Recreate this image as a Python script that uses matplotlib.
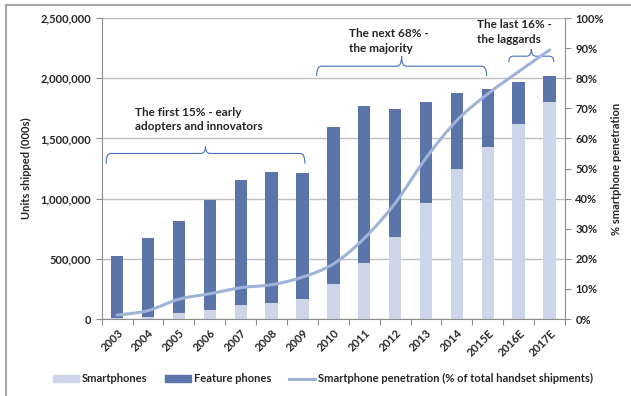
import numpy as np
import matplotlib
matplotlib.use('Agg')
import matplotlib.pyplot as plt
from matplotlib.path import Path
from matplotlib.patches import PathPatch, Patch, Rectangle
from matplotlib.lines import Line2D
from matplotlib.ticker import FuncFormatter, PercentFormatter

# dados: unidades enviadas (milhares) e penetração de smartphones (%)
anos = ['2003', '2004', '2005', '2006', '2007', '2008', '2009', '2010',
        '2011', '2012', '2013', '2014', '2015E', '2016E', '2017E']
totais = [520000, 670000, 814000, 989000, 1152000, 1220000, 1214000, 1594000,
          1772000, 1747000, 1806000, 1878000, 1911000, 1967000, 2017000]
smartphones = [7000, 15000, 47000, 75000, 114000, 136000, 170000, 292000,
               467000, 681000, 967000, 1247000, 1428000, 1617000, 1803000]
penetracao = [1.3, 2.8, 6.6, 8.4, 10.4, 11.4, 13.9, 18.3,
              26.8, 38.5, 53.5, 66.0, 74.8, 82.2, 89.4]
feature = [t - s for t, s in zip(totais, smartphones)]

cor_smart = '#CDD5E8'
cor_feat = '#5B74AA'
cor_linha = '#9FB3D9'
cor_chave = '#4A6FB5'
cor_texto = '#262626'
cor_grade = '#BFBFBF'

plt.rcParams['font.family'] = ['Lato', 'DejaVu Sans']
plt.rcParams['font.weight'] = 'bold'
plt.rcParams['axes.labelweight'] = 'bold'
plt.rcParams['font.size'] = 8

fig = plt.figure(figsize=(6.31, 3.96), dpi=100)
ax = fig.add_axes([0.1612, 0.1944, 0.7342, 0.7601])

# moldura externa (só topo e lado esquerdo aparecem)
fig.patches.append(Rectangle((6 / 631, -0.1), 1.1, 1.1 - 5 / 396,
                             transform=fig.transFigure, fill=False,
                             edgecolor='#A6A6A6', linewidth=1.5, zorder=0))

x = np.arange(len(anos))
ax.bar(x, smartphones, width=0.4, color=cor_smart, zorder=2)
ax.bar(x, feature, width=0.4, bottom=smartphones, color=cor_feat, zorder=2)

ax.set_xlim(-0.5, len(anos) - 0.5)
ax.set_ylim(0, 2500000)
ax.set_yticks(np.arange(0, 2500001, 500000))
ax.yaxis.set_major_formatter(FuncFormatter(lambda v, p: f'{v:,.0f}'))
ax.grid(axis='y', color=cor_grade, linewidth=1.0, zorder=0)
ax.set_axisbelow(True)

# marcas entre categorias, rótulos no centro
ax.set_xticks(np.arange(-0.5, len(anos), 1))
ax.set_xticklabels([])
ax.set_xticks(x, minor=True)
ax.set_xticklabels(anos, minor=True, rotation=45, ha='right',
                   rotation_mode='anchor', color=cor_texto)
ax.tick_params(axis='x', which='major', length=4, color='#8C8C8C')
ax.tick_params(axis='x', which='minor', length=0, pad=6)
ax.tick_params(axis='y', length=4, color='#8C8C8C', labelcolor=cor_texto)
for lado in ['top', 'right']:
    ax.spines[lado].set_visible(False)
for lado in ['left', 'bottom']:
    ax.spines[lado].set_color('#8C8C8C')
ax.set_ylabel('Units shipped (000s)', color=cor_texto, fontsize=8, labelpad=6)

# eixo secundário com a linha suavizada de penetração
ax2 = ax.twinx()
ax2.set_ylim(0, 100)
ax2.set_yticks(np.arange(0, 101, 10))
ax2.yaxis.set_major_formatter(PercentFormatter(decimals=0))
ax2.tick_params(axis='y', length=4, color='#8C8C8C', labelcolor=cor_texto)
for lado in ['top', 'left', 'bottom']:
    ax2.spines[lado].set_visible(False)
ax2.spines['right'].set_color('#8C8C8C')
ax2.set_ylabel('% smartphone penetration', color=cor_texto, fontsize=8, labelpad=5)

pts = np.column_stack([x, penetracao]).astype(float)
verts = [pts[0]]
codes = [Path.MOVETO]
for i in range(len(pts) - 1):
    p0 = pts[max(i - 1, 0)]
    p1 = pts[i]
    p2 = pts[i + 1]
    p3 = pts[min(i + 2, len(pts) - 1)]
    verts += [p1 + (p2 - p0) / 6, p2 - (p3 - p1) / 6, p2]
    codes += [Path.CURVE4] * 3
ax2.add_patch(PathPatch(Path(verts, codes), fill=False, edgecolor=cor_linha,
                        linewidth=2.2, capstyle='round', zorder=3))


# chaves sobre os grupos
def chave(x0, x1, y, y_ponta, y_pe):
    xm = (x0 + x1) / 2
    r = 0.15
    v = [(x0, y_pe), (x0, y), (x0 + r, y), (xm - r, y), (xm, y), (xm, y_ponta),
         (xm, y), (xm + r, y), (x1 - r, y), (x1, y), (x1, y_pe)]
    c = [Path.MOVETO, Path.CURVE3, Path.CURVE3, Path.LINETO, Path.CURVE3, Path.CURVE3,
         Path.CURVE3, Path.CURVE3, Path.LINETO, Path.CURVE3, Path.CURVE3]
    ax.add_patch(PathPatch(Path(v, c), fill=False, edgecolor=cor_chave,
                           linewidth=0.8, zorder=4, clip_on=False))


chave(-0.36, 6.08, 1375000, 1433000, 1290000)
chave(6.46, 11.96, 2100000, 2183000, 2017000)
chave(12.68, 14.14, 2183000, 2242000, 2133000)

ax.text(0.58, 1658000, 'The first 15% - early\nadopters and innovators',
        ha='left', va='center', fontsize=8.5, color=cor_texto, linespacing=1.4)
ax.text(7.51, 2308000, 'The next 68% -\nthe majority',
        ha='left', va='center', fontsize=8.5, color=cor_texto, linespacing=1.4)
ax.text(11.64, 2383000, 'The last 16% -\nthe laggards',
        ha='left', va='center', fontsize=8.5, color=cor_texto, linespacing=1.4)

handles = [Patch(color=cor_smart), Patch(color=cor_feat),
           Line2D([], [], color=cor_linha, linewidth=2.2)]
nomes = ['Smartphones', 'Feature phones',
         'Smartphone penetration (% of total handset shipments)']
fig.legend(handles, nomes, loc='center', bbox_to_anchor=(0.512, 0.043), ncol=3,
           frameon=False, fontsize=8, handlelength=2.3, handleheight=0.6,
           handletextpad=0.3, columnspacing=1.6, labelcolor=cor_texto)

fig.savefig('out.png', dpi=100)
